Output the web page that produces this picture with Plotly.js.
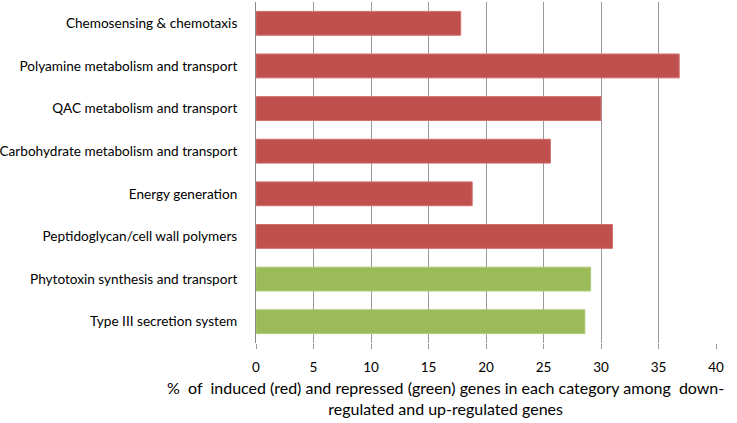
<!DOCTYPE html>
<html>
<head>
<meta charset="utf-8">
<script src="https://cdn.plot.ly/plotly-3.0.1.min.js"></script>
<style>html,body{margin:0;padding:0;background:#fff;}#chart{width:737px;height:423px;}</style>
</head>
<body>
<div id="chart"></div>
<script>
const categories = [
  "Chemosensing & chemotaxis",
  "Polyamine metabolism and transport",
  "QAC metabolism and transport",
  "Carbohydrate metabolism and transport",
  "Energy generation",
  "Peptidoglycan/cell wall polymers",
  "Phytotoxin synthesis and transport",
  "Type III secretion system"
];
const values = [17.8, 36.8, 30.0, 25.6, 18.8, 31.0, 29.1, 28.6];
const regulation = ["induced","induced","induced","induced","induced","induced","repressed","repressed"];
const tickValues = [0, 5, 10, 15, 20, 25, 30, 35, 40];
const axisTitle = "%  of  induced (red) and repressed (green) genes in each category among  down-<br>regulated and up-regulated genes";

const fillColors = {induced: "#C0504D", repressed: "#9BBB59"};
const edgeColors = {induced: "#D0706D", repressed: "#AFCB7A"};

const trace = {
  type: "bar",
  orientation: "h",
  x: values,
  y: categories,
  width: 0.56,
  marker: {
    color: regulation.map(r => fillColors[r]),
    line: {color: regulation.map(r => edgeColors[r]), width: 1}
  },
  hoverinfo: "x+y"
};

const layout = {
  width: 737, height: 423,
  margin: {l: 256, r: 21, t: 2, b: 80},
  paper_bgcolor: "#fff", plot_bgcolor: "#fff",
  font: {family: "Lato, 'Noto Sans', sans-serif", size: 13, color: "#000"},
  showlegend: false,
  bargap: 0.44,
  xaxis: {
    range: [0, 40],
    tickvals: tickValues,
    ticktext: tickValues.map(String),
    showgrid: true, gridcolor: "#9a9a9a", gridwidth: 1,
    zeroline: false,
    showline: false,
    ticks: "outside", ticklen: 5, tickcolor: "#9a9a9a", tickwidth: 1,
    tickfont: {size: 13.5, color: "#000"},
    ticklabelstandoff: 7,
    fixedrange: true
  },
  yaxis: {
    autorange: "reversed",
    showgrid: false,
    zeroline: false,
    showline: true, linecolor: "#8a8a8a", linewidth: 1,
    ticks: "",
    tickfont: {size: 13.6, color: "#000"},
    ticklabelstandoff: 15,
    fixedrange: true
  },
  annotations: [{
    text: axisTitle,
    xref: "paper", yref: "paper",
    x: 0.413, y: -0.098,
    xanchor: "center", yanchor: "top",
    showarrow: false,
    align: "center",
    font: {size: 16, color: "#000"}
  }]
};

Plotly.newPlot("chart", [trace], layout, {displayModeBar: false, staticPlot: true});
</script>
</body>
</html>
